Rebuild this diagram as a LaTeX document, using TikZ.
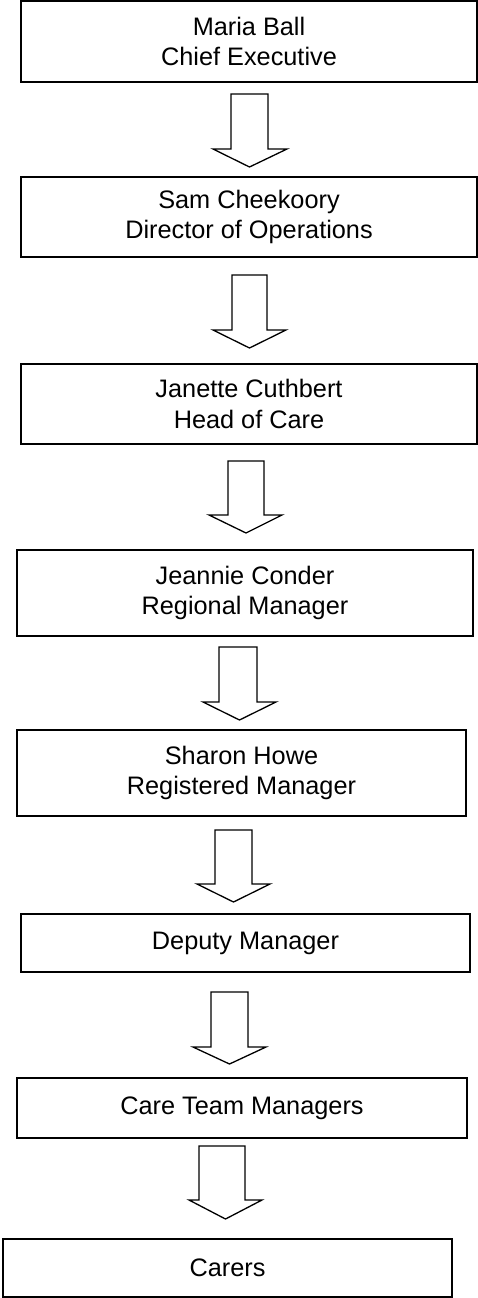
\documentclass[tikz,border=0pt]{standalone}
\usepackage{fontspec}
\setmainfont{Liberation Sans}
% block arrow: shaft left, shaft right, top, wing y, wing left, wing right, tip y, tip x
\newcommand{\blkarrow}[8]{%
  \draw[blockarrow] (#1,#3) -- (#1,#4) -- (#5,#4) -- (#8,#7) -- (#6,#4) -- (#2,#4) -- (#2,#3) -- cycle;}
\begin{document}
\begin{tikzpicture}[x=1pt,y=-1pt,
  box/.style={draw=black, line width=1.8pt, inner sep=0pt, align=center,
    font=\fontsize{25.3}{30.7}\selectfont, text=black},
  blockarrow/.style={draw=black, line width=1.3pt, fill=white, line join=miter}]
\useasboundingbox (0,0) rectangle (478,1298);

\node[box, minimum width=456pt, minimum height=81pt] (ceo) at (249,41.5) {Maria Ball\\Chief Executive};
\node[box, minimum width=456pt, minimum height=80pt] (dop) at (249,217) {Sam Cheekoory\\Director of Operations};
\node[box, minimum width=456pt, minimum height=80pt] (hoc) at (249,404) {Janette Cuthbert\\Head of Care};
\node[box, minimum width=456pt, minimum height=86pt] (rm) at (245,593) {Jeannie Conder\\Regional Manager};
\node[box, minimum width=449pt, minimum height=86pt] (regm) at (241.5,773) {Sharon Howe\\Registered Manager};
\node[box, minimum width=449pt, minimum height=58pt] (dm) at (245.5,943) {Deputy Manager};
\node[box, minimum width=450pt, minimum height=60pt] (ctm) at (242,1108) {Care Team Managers};
\node[box, minimum width=449pt, minimum height=58pt] (car) at (227.5,1268) {Carers};

\blkarrow{231}{268}{94}{149}{213}{287}{167}{249.5}
\blkarrow{232}{267}{275}{330}{213}{286}{348}{249.5}
\blkarrow{228}{264}{461}{515}{209}{282}{533}{246}
\blkarrow{219}{257}{647}{702}{203}{276}{720}{239.5}
\blkarrow{215}{252}{830}{884}{197}{270}{902}{233.5}
\blkarrow{211}{248}{992}{1047}{193}{266}{1064}{229.5}
\blkarrow{199}{245}{1146}{1200}{189}{262}{1219}{225.5}
\end{tikzpicture}
\end{document}
